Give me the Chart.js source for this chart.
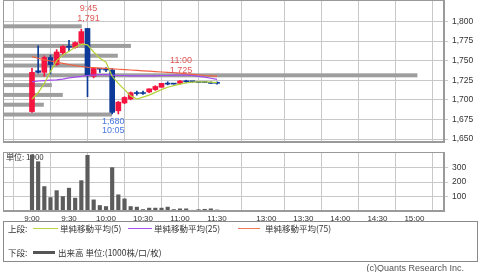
<!DOCTYPE html>
<html><head><meta charset="utf-8">
<script src="https://cdn.jsdelivr.net/npm/chart.js@4/dist/chart.umd.min.js"></script>
<style>
html,body{margin:0;padding:0;background:#fff;width:480px;height:272px;overflow:hidden;}
#c1{position:absolute;left:0;top:0;}
#c2{position:absolute;left:0;top:148px;}
.t{position:absolute;font-size:8.5px;color:#333;white-space:nowrap;line-height:10px;font-family:"Noto Sans CJK JP","Liberation Sans",sans-serif;}
.ln{position:absolute;height:1.5px;}
#box{position:absolute;left:3px;top:221px;width:473px;height:39px;border:1px solid #8a8a8a;}
</style></head><body>
<canvas id="c1" width="480" height="144"></canvas>
<canvas id="c2" width="480" height="76"></canvas>
<div id="box"></div>
<div id="legend"></div>
<script>
// ---- data ----
const times  = ['9:00','9:05','9:10','9:15','9:20','9:25','9:30','9:35','9:40','9:45','9:50','9:55','10:00','10:05','10:10','10:15','10:20','10:25','10:30','10:35','10:40','10:45','10:50','10:55','11:00','11:05','11:10','11:15','11:20','11:25','11:30'];
const opens  = [1685,1737,1735,1754,1745,1760,1768,1767,1772,1791,1730,1740,1739,1738,1686,1696,1701,1709,1709,1710,1713,1716,1721,1721,1721,1724,1723,1723,1723,1722,1722];
const highs  = [1740,1769,1756,1757,1764,1769,1776,1774,1790,1791,1741,1740,1741,1740,1698,1704,1710,1711,1711,1714,1718,1721,1723,1721,1725,1725,1723,1723,1723,1723,1723];
const lows   = [1684,1734,1730,1733,1744,1758,1762,1766,1771,1704,1728,1735,1736,1682,1682,1695,1700,1706,1707,1709,1712,1716,1719,1720,1720,1722,1722,1722,1722,1721,1720];
const closes = [1735,1735,1754,1745,1761,1768,1767,1773,1787,1731,1740,1739,1738,1684,1697,1703,1709,1708,1708,1714,1717,1721,1720,1720,1724,1723,1723,1722,1722,1721,1721];
const sma5   = [1701,1709,1721,1736,1750,1757,1762,1767,1771,1770,1761,1753,1748,1730,1721,1713,1705,1701,1703.5,1706,1709.5,1713,1716,1718,1720,1721.5,1722.5,1723,1723,1722.5,1722];
const sma25  = [1723,1724,1724.5,1725,1725.5,1726.5,1728,1729,1730,1731,1731.5,1732,1732,1731.5,1731,1731,1730.5,1730.5,1730.5,1730.5,1730.5,1731,1731,1731.5,1731.5,1731.5,1731,1730,1729,1727.5,1726];
const sma75  = [1755,1753,1751,1749.5,1748,1746.5,1745,1743.5,1742.5,1741.5,1741,1740.5,1740,1739.5,1739,1738.5,1738,1737.5,1737,1736.5,1736,1735.5,1735,1734.5,1734,1733,1732.5,1732,1731,1730.5,1730];
const volumes = [388,341,169,93,141,100,158,89,210,385,77,38,31,300,112,84,31,27,10,20,20,20,27,10,15,15,5,9,12,15,7];
const profilePrices  = [1793.75,1781.25,1768.75,1756.25,1743.75,1731.25,1718.75,1706.25,1693.75,1681.25];
const profileVolumes = [216,0,351,315,230,1137,134,164,112,299];
const timeTickSlots  = [0,6,12,18,24,30,38,44,50,56,62];
const timeTickLabels = ['9:00','9:30','10:00','10:30','11:00','11:30','13:00','13:30','14:00','14:30','15:00'];
const priceTicks = [1650,1675,1700,1725,1750,1775,1800];
const volumeTicks = [100,200,300];
const noteSlots  = [9,24,13];
const notePrices = [1791,1725,1680];
const noteKinds  = ['high','high','low'];
const noteTexts  = [['9:45','1,791'],['11:00','1,725'],['1,680','10:05']];
const legendTop  = ['上段:','単純移動平均(5)','単純移動平均(25)','単純移動平均(75)'];
const legendBottom = ['下段:','出来高 単位:(1000株/口/枚)'];
const unitText = '単位: 1000';
const copyright = '(c)Quants Research Inc.';

// ---- styles ----
const RED='#f5143f', BLUE='#0d3a99';
const C5='#b4d23a', C25='#a24bef', C75='#f2603f';
const GRID='#c8c8c8', FRAME='#9a9a9a';
const fontFam='"Liberation Sans", Arial, sans-serif';

const candleColor = opens.map((o,i)=> closes[i] > o ? RED : BLUE);
const X_MIN=-4.7, X_MAX=66.8;
const PROFILE_MAX=1210;

const noPad = s=>{s.paddingTop=0;s.paddingBottom=0;s.paddingLeft=0;s.paddingRight=0;};

const framePlugin={id:'frame',afterDraw(chart){const a=chart.chartArea,ctx=chart.ctx;ctx.save();ctx.strokeStyle=FRAME;ctx.lineWidth=1;ctx.strokeRect(Math.round(a.left)+0.5,Math.round(a.top)+0.5,Math.round(a.right-a.left)-1,Math.round(a.bottom-a.top)-1);ctx.restore();}};

const profilePlugin={id:'profile',beforeDatasetsDraw(chart){
  const ctx=chart.ctx,a=chart.chartArea,xs=chart.scales.xp,ys=chart.scales.y;
  ctx.save();ctx.fillStyle='#9e9e9e';
  profilePrices.forEach((p,k)=>{ if(!profileVolumes[k])return; const yc=ys.getPixelForValue(p); const x1=xs.getPixelForValue(profileVolumes[k]); ctx.fillRect(a.left,yc-2,x1-a.left,4);});
  ctx.restore();}};

const notesPlugin={id:'notes',afterDatasetsDraw(chart){
  const ctx=chart.ctx,xs=chart.scales.x,ys=chart.scales.y;
  ctx.save();ctx.font='9px '+fontFam;ctx.textAlign='center';ctx.textBaseline='middle';
  noteSlots.forEach((s,k)=>{
    const x=xs.getPixelForValue(s)+1, y=ys.getPixelForValue(notePrices[k]);
    if(noteKinds[k]==='high'){ctx.fillStyle='#e05858';ctx.fillText(noteTexts[k][0],x,y-20);ctx.fillText(noteTexts[k][1],x,y-10);}
    else{ctx.fillStyle='#4a78e0';ctx.fillText(noteTexts[k][0],x,y+6);ctx.fillText(noteTexts[k][1],x,y+15);}
  });
  ctx.restore();}};

const unitPlugin={id:'unit',beforeDatasetsDraw(chart){const ctx=chart.ctx,a=chart.chartArea;ctx.save();ctx.font='8px "Noto Sans CJK JP", sans-serif';ctx.fillStyle='#333';ctx.textBaseline='middle';ctx.fillText(unitText,a.left+3,a.top+4.5);ctx.restore();}};

const xTicks = s=>{s.ticks=timeTickSlots.map(v=>({value:v}));};
const pts = arr=>arr.map((v,i)=>({x:i,y:v}));

new Chart(document.getElementById('c1'),{
  type:'bar',
  data:{datasets:[
    {type:'line',data:pts(sma5),borderColor:C5,borderWidth:1.2,pointRadius:0,order:0,xAxisID:'x'},
    {type:'line',data:pts(sma25),borderColor:C25,borderWidth:1.2,pointRadius:0,order:0,xAxisID:'x'},
    {type:'line',data:pts(sma75),borderColor:C75,borderWidth:1.2,pointRadius:0,order:0,xAxisID:'x'},
    {type:'bar',data:opens.map((o,i)=>({x:i,y:[o,closes[i]]})),backgroundColor:candleColor,barThickness:5,grouped:false,minBarLength:1,order:1,xAxisID:'x'},
    {type:'bar',data:lows.map((l,i)=>({x:i,y:[l,highs[i]]})),backgroundColor:candleColor,barThickness:1,grouped:false,order:2,xAxisID:'x'}
  ]},
  options:{responsive:false,animation:false,events:[],
    plugins:{legend:{display:false},tooltip:{enabled:false}},
    layout:{autoPadding:false,padding:{left:3,top:0,right:0,bottom:0}},
    scales:{
      x:{type:'linear',min:X_MIN,max:X_MAX,offset:false,afterBuildTicks:xTicks,ticks:{display:false},grid:{color:GRID,drawTicks:false},border:{color:FRAME},afterFit:s=>{s.height=2;noPad(s);}},
      y:{type:'linear',position:'right',min:1646.2,max:1827.3,afterBuildTicks:s=>{s.ticks=priceTicks.map(v=>({value:v}));},
         ticks:{callback:v=>v.toLocaleString('en-US'),font:{size:8.5,family:fontFam},color:'#333',padding:4},
         grid:{color:GRID,tickLength:4},border:{color:FRAME},afterFit:s=>{s.width=36;noPad(s);}},
      xp:{type:'linear',axis:'x',position:'bottom',min:0,max:PROFILE_MAX,offset:false,bounds:'data',grace:0,
          afterBuildTicks:s=>{s.ticks=[{value:0},{value:PROFILE_MAX}];},
          ticks:{display:false},grid:{display:false,drawTicks:false,offset:false},border:{display:false},afterFit:s=>{s.height=0;noPad(s);}}
    }},
  plugins:[profilePlugin,notesPlugin,framePlugin]
});

new Chart(document.getElementById('c2'),{
  type:'bar',
  data:{datasets:[{data:pts(volumes),backgroundColor:'#5c5c5c',barThickness:3.5,grouped:false}]},
  options:{responsive:false,animation:false,events:[],
    plugins:{legend:{display:false},tooltip:{enabled:false}},
    layout:{autoPadding:false,padding:{left:3,top:4,right:0,bottom:0}},
    scales:{
      x:{type:'linear',min:X_MIN,max:X_MAX,offset:false,afterBuildTicks:xTicks,
         ticks:{callback:(v,i)=>timeTickLabels[i],font:{size:8,family:fontFam},color:'#333',padding:3,maxRotation:0,autoSkip:false},
         grid:{color:GRID,drawTicks:false},border:{color:FRAME},afterFit:s=>{s.height=13;noPad(s);}},
      y:{type:'linear',position:'right',min:0,max:408,afterBuildTicks:s=>{s.ticks=volumeTicks.map(v=>({value:v}));},
         ticks:{font:{size:8.5,family:fontFam},color:'#333',padding:4},
         grid:{color:GRID,tickLength:4},border:{color:FRAME},afterFit:s=>{s.width=36;noPad(s);}}
    }},
  plugins:[unitPlugin,framePlugin]
});

// ---- legend (HTML) ----
const lg=document.getElementById('legend');
function txt(s,l,t,extra){const d=document.createElement('div');d.className='t';d.textContent=s;d.style.left=l+'px';d.style.top=t+'px';if(extra)Object.assign(d.style,extra);lg.appendChild(d);}
function line(l,t,w,c,h){const d=document.createElement('div');d.className='ln';Object.assign(d.style,{left:l+'px',top:t+'px',width:w+'px',background:c,height:(h||1.5)+'px'});lg.appendChild(d);}
txt(legendTop[0],8,223);
line(33,227.5,25,'#b8d645');txt(legendTop[1],60,223);
line(128,227.5,24,'#a64ff0');txt(legendTop[2],154,223);
line(238,227.5,22,'#f2785a');txt(legendTop[3],265,223);
txt(legendBottom[0],8,247);
line(33,251,22,'#555',2.5);txt(legendBottom[1],58,247);
txt(copyright,0,263,{left:'auto',right:'16px',fontSize:'9px',color:'#555',fontFamily:fontFam});
</script>
</body></html>
